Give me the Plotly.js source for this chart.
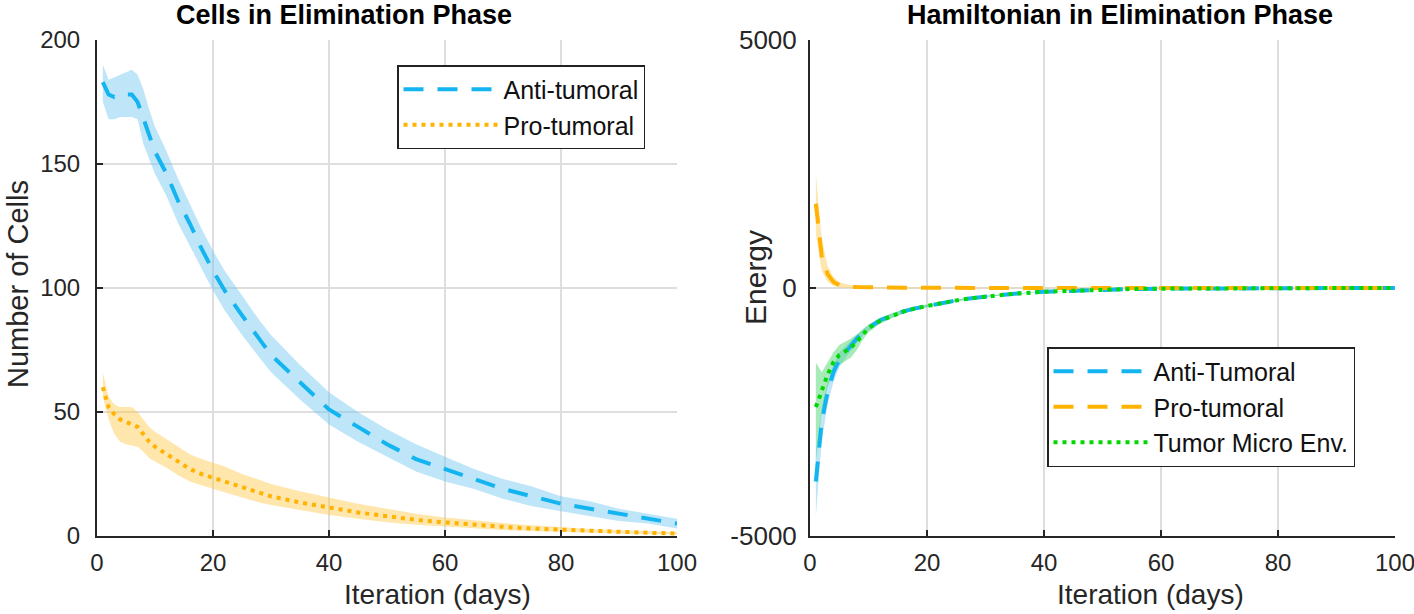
<!DOCTYPE html>
<html>
<head>
<meta charset="utf-8">
<script src="https://cdn.plot.ly/plotly-3.0.1.min.js"></script>
<style>html,body{margin:0;padding:0;background:#fff;}#chart{width:1414px;height:614px;}</style>
</head>
<body>
<div id="chart"></div>
<script>
// ---- data ----
const days = [1,2,3,4,5,6,7,8,9,10,12,14,16,18,20,22,25,28,30,35,40,45,50,55,60,65,70,75,80,85,90,95,100];

// Left: Cells in Elimination Phase
const cellsAntiMean  = [183,178,177,178,178,178,175,168,162,155,146,135,126,116,107,99,89,79,73,62,51,44,37,31,27,23,19,16,13,11,9,7,5];
const cellsAntiUpper = [190,184,185,186,187,188,186,180,172,165,155,144,134,124,115,107,97,87,81,69,58,50,43,37,32,27,23,20,16,14,11,9,7];
const cellsAntiLower = [175,168,168,169,169,169,168,158,152,146,137,126,117,108,99,91,81,72,66,55,45,38,32,26,22,19,15,12,10,8,6,5,3];

const cellsProMean  = [60,52,49,47,46,45,44,41,38,36,33,30,27,25,23.5,22,19.5,17.5,16,13.5,11.5,9.5,8,6.5,5.5,4.5,3.7,3,2.5,2,1.6,1.3,1];
const cellsProUpper = [66,56,53,52,52,52,50,47,44,42,39,36,33,31,29.5,28,25,22.5,21,18,15.5,13,11,9,7.5,6.3,5.2,4.3,3.5,2.8,2.3,1.9,1.5];
const cellsProLower = [56,47,41,38,37,36.5,36,34,31.5,30,27.5,24.5,22,20.5,19,17.5,15.5,13.5,12.5,10.5,8.5,7,5.5,4.5,3.7,3,2.4,2,1.6,1.3,1,0.8,0.6];

// Right: Hamiltonian in Elimination Phase
const hamAntiMean  = [-3900,-2700,-2100,-1700,-1450,-1300,-1150,-1020,-900,-800,-650,-550,-470,-410,-360,-310,-250,-200,-170,-115,-75,-50,-32,-20,-13,-8,-5,-3,-2,-1,-1,0,0];
const hamAntiUpper = [-3300,-2400,-1900,-1550,-1300,-1180,-1050,-930,-830,-740,-600,-505,-430,-375,-330,-285,-230,-185,-157,-105,-68,-45,-28,-17,-11,-6,-4,-2,-1,0,0,0,0];
const hamAntiLower = [-4600,-3100,-2350,-1900,-1600,-1420,-1260,-1110,-970,-860,-700,-595,-510,-445,-390,-335,-270,-215,-183,-125,-82,-55,-36,-23,-15,-10,-6,-4,-3,-2,-2,-1,-1];

const hamProMean  = [1700,650,280,120,60,35,25,18,14,10,7,5,4,3,2,2,1,1,1,1,0,0,0,0,0,0,0,0,0,0,0,0,0];
const hamProUpper = [2300,1000,450,220,120,80,60,45,35,28,20,15,12,10,8,6,5,4,3,2,1,1,1,1,1,1,1,1,1,1,1,1,1];
const hamProLower = [1100,350,130,40,10,0,-5,-8,-8,-8,-6,-5,-4,-3,-3,-2,-2,-1,-1,-1,-1,-1,-1,-1,-1,-1,-1,-1,-1,-1,-1,-1,-1];

const hamTmeMean  = [-2400,-2050,-1750,-1500,-1350,-1280,-1200,-1080,-930,-810,-660,-560,-475,-410,-360,-310,-250,-200,-170,-115,-75,-50,-32,-20,-13,-8,-5,-3,-2,-1,-1,0,0];
const hamTmeUpper = [-1500,-1700,-1500,-1300,-1150,-1080,-1020,-930,-840,-740,-600,-510,-435,-378,-332,-287,-232,-186,-158,-106,-69,-46,-29,-18,-11,-7,-4,-2,-1,0,0,0,0];
const hamTmeLower = [-3500,-2500,-2000,-1700,-1550,-1480,-1400,-1250,-1050,-890,-720,-610,-515,-442,-388,-333,-268,-214,-182,-124,-81,-54,-35,-22,-15,-9,-6,-4,-3,-2,-2,-1,-1];

const xTicks = [0,20,40,60,80,100];
const cellTicks = [0,50,100,150,200];
const hamTicks = [-5000,0,5000];
const hamTickText = ['-5000','0','5000'];

// ---- styles ----
const BLUE = 'rgb(20,180,240)';
const ORANGE = 'rgb(255,178,0)';
const GREEN = 'rgb(0,215,0)';
const BLUE_BAND = 'rgba(110,200,240,0.45)';
const ORANGE_BAND = 'rgba(252,200,70,0.45)';
const GREEN_BAND = 'rgba(60,210,100,0.45)';
const DASH = '20px,14px';
const DOT = '4px,5px';
const FONT = 'Liberation Sans, Arial, Helvetica, sans-serif';
const TXT = '#262626';

function band(x, up, lo, color, xa, ya) {
  return [
    {x: x, y: up, xaxis: xa, yaxis: ya, mode: 'lines', line: {width: 0, color: color}, showlegend: false, hoverinfo: 'skip'},
    {x: x, y: lo, xaxis: xa, yaxis: ya, mode: 'lines', line: {width: 0, color: color}, fill: 'tonexty', fillcolor: color, showlegend: false, hoverinfo: 'skip'}
  ];
}
function line(x, y, name, color, dash, xa, ya, leg) {
  return {x: x, y: y, name: name, xaxis: xa, yaxis: ya, mode: 'lines', legend: leg,
          line: {color: color, width: 4, dash: dash}};
}

const traces = [].concat(
  band(days, cellsAntiUpper, cellsAntiLower, BLUE_BAND, 'x', 'y'),
  band(days, cellsProUpper, cellsProLower, ORANGE_BAND, 'x', 'y'),
  [line(days, cellsAntiMean, 'Anti-tumoral', BLUE, DASH, 'x', 'y', 'legend'),
   line(days, cellsProMean, 'Pro-tumoral', ORANGE, DOT, 'x', 'y', 'legend')],
  band(days, hamAntiUpper, hamAntiLower, BLUE_BAND, 'x2', 'y2'),
  band(days, hamProUpper, hamProLower, ORANGE_BAND, 'x2', 'y2'),
  band(days, hamTmeUpper, hamTmeLower, GREEN_BAND, 'x2', 'y2'),
  [line(days, hamAntiMean, 'Anti-Tumoral', BLUE, DASH, 'x2', 'y2', 'legend2'),
   line(days, hamProMean, 'Pro-tumoral', ORANGE, DASH, 'x2', 'y2', 'legend2'),
   line(days, hamTmeMean, 'Tumor Micro Env.', GREEN, DOT, 'x2', 'y2', 'legend2')]
);

function baseAxis(fs) {
  return {showgrid: true, gridcolor: '#dedede', gridwidth: 1.2, zeroline: false,
    showline: true, linecolor: TXT, linewidth: 2,
    ticks: 'inside', ticklen: 6, tickcolor: TXT, tickwidth: 1.5, ticklabeloverflow: 'allow',
    tickfont: {family: FONT, size: fs, color: TXT}};
}
function xaxis(domain, anchor, fs) {
  return Object.assign(baseAxis(fs), {domain: domain, anchor: anchor, range: [0,100], tickvals: xTicks,
    ticklabelstandoff: 4});
}
const yDom = [1 - 536/614, 1 - 40/614];
const legendBase = {xanchor: 'left', yanchor: 'top', bgcolor: '#fff', bordercolor: '#222', borderwidth: 1.5,
  font: {family: FONT, size: 25, color: '#111'}, itemwidth: 95, tracegroupgap: 0, traceorder: 'normal'};

function ann(text, x, y, size, angle, bold) {
  return {text: bold ? '<b>' + text + '</b>' : text, xref: 'paper', yref: 'paper', x: x/1414, y: 1 - y/614,
    xanchor: 'center', yanchor: 'middle', showarrow: false, textangle: angle || 0,
    font: {family: FONT, size: size, color: bold ? '#000' : TXT}};
}

const layout = {
  width: 1414, height: 614,
  margin: {l: 0, r: 0, t: 0, b: 0},
  paper_bgcolor: '#fff', plot_bgcolor: '#fff',
  font: {family: FONT, color: TXT},
  xaxis: xaxis([97/1414, 677/1414], 'y', 24),
  xaxis2: xaxis([810/1414, 1395/1414], 'y2', 24),
  yaxis: Object.assign(baseAxis(24), {domain: yDom, anchor: 'x', range: [0,200], tickvals: cellTicks, ticklabelstandoff: 10}),
  yaxis2: Object.assign(baseAxis(26), {domain: yDom, anchor: 'x2', range: [-5000,5000], tickvals: hamTicks,
    ticktext: hamTickText, ticklabelstandoff: 6}),
  legend: Object.assign({x: 397/1414, y: 1 - 65/614}, legendBase),
  legend2: Object.assign({x: 1047/1414, y: 1 - 347/614}, legendBase),
  annotations: [
    ann('Cells in Elimination Phase', 344, 15, 27, 0, true),
    ann('Hamiltonian in Elimination Phase', 1120, 15, 27, 0, true),
    ann('Iteration (days)', 437, 594, 28),
    ann('Iteration (days)', 1150, 594, 28),
    ann('Number of Cells', 18, 284, 29, -90),
    ann('Energy', 755, 277, 30, -90)
  ]
};

Plotly.newPlot('chart', traces, layout, {displayModeBar: false, staticPlot: true});
</script>
</body>
</html>
